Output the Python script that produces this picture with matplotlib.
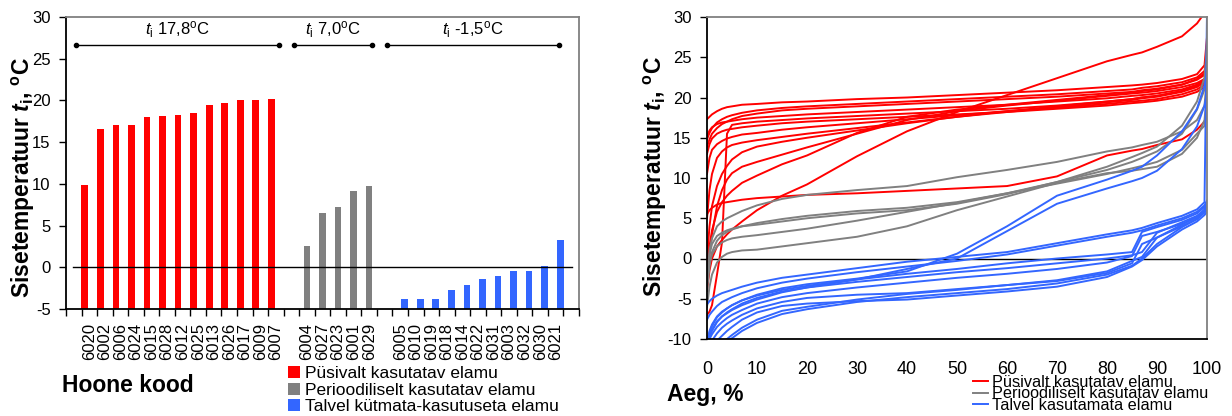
import matplotlib.pyplot as plt
import numpy as np

plt.rcParams['font.family'] = 'Liberation Sans'
plt.rcParams['axes.unicode_minus'] = False
plt.rcParams['mathtext.fontset'] = 'custom'
plt.rcParams['mathtext.rm'] = 'Liberation Sans'
plt.rcParams['mathtext.it'] = 'Liberation Sans:italic'
plt.rcParams['mathtext.bf'] = 'Liberation Sans:bold'
plt.rcParams['mathtext.bfit'] = 'Liberation Sans:italic:bold'

RED = '#ff0000'
GRAY = '#808080'
BLUE = '#3366ff'

# mean indoor temperature per building, grouped by usage type
perm_codes = ['6020', '6002', '6006', '6024', '6015', '6028', '6012', '6025',
              '6013', '6026', '6017', '6009', '6007']
perm_temp = [9.9, 16.6, 17.0, 17.1, 18.0, 18.1, 18.3, 18.5, 19.4, 19.7, 20.0, 20.1, 20.2]

period_codes = ['6004', '6027', '6023', '6001', '6029']
period_temp = [2.6, 6.5, 7.2, 9.1, 9.7]

winter_codes = ['6005', '6010', '6019', '6018', '6014', '6022', '6031', '6003',
                '6032', '6030', '6021']
winter_temp = [-3.8, -3.75, -3.75, -2.75, -2.1, -1.4, -1.0, -0.5, -0.45, 0.15, 3.3]

group_means = [17.8, 7.0, -1.5]

legend_left = ['Püsivalt kasutatav elamu', 'Perioodiliselt kasutatav elamu',
               'Talvel kütmata-kasutuseta elamu']
legend_right = ['Püsivalt kasutatav elamu', 'Perioodiliselt kasutatav elamu',
                'Talvel kasutamata elamu']

# duration curves: share of time (%) when temperature is below the value
pct = [0, 0.5, 1, 2, 3, 4, 5, 7, 10, 15, 20, 30, 40, 50, 60, 70, 80, 85, 87, 90, 95, 98, 99.5, 100]

perm_curves = [
    [17.3, 17.6, 17.9, 18.3, 18.6, 18.8, 18.9, 19.1, 19.2, 19.4, 19.5, 19.8, 20.0, 20.3, 20.6, 20.9, 21.3, 21.5, 21.6, 21.8, 22.3, 22.9, 24.0, 27.5],
    [14.8, 15.6, 16.2, 16.9, 17.3, 17.6, 17.8, 18.1, 18.4, 18.7, 18.9, 19.2, 19.5, 19.8, 20.1, 20.4, 20.8, 21.0, 21.2, 21.4, 21.9, 22.5, 23.3, 24.9],
    [13.9, 14.8, 15.5, 16.2, 16.7, 17.0, 17.3, 17.7, 18.0, 18.4, 18.6, 18.9, 19.2, 19.5, 19.8, 20.1, 20.5, 20.7, 20.9, 21.1, 21.6, 22.2, 22.8, 23.5],
    [-7.0, -6.6, -5.8, -2.0, 2.0, 15.5, 16.6, 16.8, 17.0, 17.2, 17.4, 17.7, 18.0, 18.3, 18.6, 19.0, 19.5, 19.8, 20.0, 20.2, 20.8, 21.5, 22.0, 22.8],
    [10.5, 12.5, 13.5, 14.2, 14.6, 14.9, 15.1, 15.4, 15.6, 16.0, 16.3, 16.8, 17.3, 17.8, 18.3, 18.7, 19.2, 19.5, 19.6, 19.8, 20.4, 21.0, 21.6, 22.3],
    [5.0, 8.5, 10.5, 12.5, 13.3, 13.8, 14.1, 14.4, 14.7, 15.1, 15.5, 16.2, 16.9, 17.6, 18.2, 18.8, 19.4, 19.7, 19.9, 20.1, 20.7, 21.3, 21.9, 22.6],
    [0.0, 4.0, 6.5, 9.0, 10.5, 11.5, 12.3, 13.2, 13.9, 14.5, 15.0, 15.9, 16.8, 17.6, 18.3, 18.9, 19.5, 19.8, 20.0, 20.2, 20.8, 21.4, 22.0, 22.6],
    [-3.0, 0.5, 3.0, 6.5, 8.5, 9.8, 10.6, 11.4, 12.0, 12.9, 13.8, 15.5, 17.2, 18.3, 19.0, 19.6, 20.2, 20.5, 20.6, 20.8, 21.3, 21.8, 22.3, 22.9],
    [-1.0, 1.5, 3.5, 5.8, 7.0, 7.8, 8.4, 9.4, 10.3, 11.7, 12.8, 15.6, 17.6, 18.5, 19.1, 19.7, 20.3, 20.6, 20.8, 21.0, 21.6, 22.3, 23.0, 24.0],
    [-4.0, -1.5, 0.0, 1.5, 2.3, 3.0, 3.6, 4.6, 6.0, 7.8, 9.2, 12.7, 15.8, 18.2, 20.3, 22.4, 24.5, 25.3, 25.6, 26.3, 27.6, 29.2, 30.5, 31.0],
    [15.2, 15.9, 16.3, 16.7, 16.9, 17.0, 17.1, 17.3, 17.5, 17.7, 17.9, 18.2, 18.5, 18.8, 19.1, 19.5, 19.9, 20.2, 20.3, 20.5, 21.0, 21.6, 22.2, 23.0],
    [13.0, 14.2, 14.9, 15.5, 15.8, 16.0, 16.1, 16.3, 16.5, 16.8, 17.0, 17.3, 17.6, 17.9, 18.2, 18.6, 19.0, 19.3, 19.4, 19.6, 20.1, 20.7, 21.3, 22.0],
    [5.5, 6.0, 6.3, 6.7, 6.9, 7.0, 7.1, 7.3, 7.5, 7.7, 7.9, 8.1, 8.4, 8.7, 9.0, 10.2, 12.8, 13.4, 13.6, 14.1, 14.8, 16.0, 17.0, 17.6],
]

period_curves = [
    [-3.0, 1.0, 2.5, 4.0, 4.6, 5.0, 5.3, 5.9, 6.6, 7.4, 7.9, 8.5, 9.0, 10.1, 11.0, 12.0, 13.3, 13.8, 14.1, 14.5, 15.8, 17.2, 19.0, 22.6],
    [-2.0, 0.5, 1.8, 2.8, 3.2, 3.5, 3.7, 4.0, 4.2, 4.6, 5.0, 5.6, 6.0, 6.8, 8.0, 9.5, 11.4, 12.6, 13.1, 13.9, 16.5, 19.5, 22.5, 26.8],
    [-3.0, -0.5, 0.5, 1.5, 2.0, 2.3, 2.5, 2.7, 2.9, 3.3, 3.7, 4.7, 5.8, 6.9, 8.1, 9.5, 11.0, 12.0, 12.5, 13.3, 15.5, 18.5, 21.0, 24.0],
    [-6.0, -3.5, -2.0, -0.5, 0.2, 0.6, 0.8, 1.0, 1.1, 1.5, 1.9, 2.7, 4.0, 6.0, 7.7, 9.4, 10.6, 10.9, 11.1, 11.4, 13.0, 15.0, 17.2, 20.6],
    [-4.0, -1.0, 0.8, 2.2, 2.9, 3.3, 3.6, 4.0, 4.4, 4.9, 5.3, 5.9, 6.3, 7.0, 8.1, 9.3, 10.5, 11.2, 11.5, 12.0, 13.5, 15.5, 16.5, 18.1],
]

winter_curves = [
    [-10.5, -9.0, -8.2, -7.2, -6.6, -6.2, -5.8, -5.2, -4.5, -3.7, -3.2, -2.5, -1.6, 0.6, 4.0, 7.8, 9.8, 10.9, 11.4, 12.8, 15.8, 18.6, 21.5, 23.0],
    [-10.5, -9.5, -8.8, -7.8, -7.2, -6.8, -6.4, -5.8, -5.1, -4.2, -3.6, -2.6, -1.3, 0.0, 3.4, 6.8, 8.7, 9.6, 10.0, 10.9, 13.6, 16.4, 19.0, 20.5],
    [-5.7, -5.3, -5.0, -4.6, -4.3, -4.1, -3.9, -3.5, -3.0, -2.4, -2.0, -1.2, -0.4, 0.2, 0.8, 1.9, 3.0, 3.5, 3.8, 4.4, 5.3, 6.1, 7.0, 30.5],
    [-7.6, -7.0, -6.6, -5.9, -5.4, -5.1, -4.8, -4.3, -3.7, -3.0, -2.5, -1.7, -1.0, -0.3, 0.5, 1.6, 2.7, 3.2, 3.5, 4.1, 5.0, 5.8, 6.6, 7.2],
    [-10.5, -9.2, -8.4, -7.3, -6.7, -6.2, -5.8, -5.2, -4.6, -3.9, -3.4, -2.6, -1.9, -1.3, -0.6, 0.0, 0.5, 0.8, 3.3, 3.9, 4.8, 5.6, 6.4, 6.8],
    [-10.5, -9.8, -9.0, -7.9, -7.2, -6.7, -6.3, -5.6, -4.9, -4.1, -3.6, -2.9, -2.3, -1.7, -1.2, -0.6, 0.0, 0.4, 0.8, 3.2, 4.5, 5.3, 6.0, 6.5],
    [-10.5, -10.0, -9.4, -8.5, -7.9, -7.4, -7.0, -6.4, -5.6, -4.8, -4.3, -3.6, -3.0, -2.4, -1.9, -1.3, -0.5, 0.3, 2.8, 3.3, 4.3, 5.1, 5.9, 6.3],
    [-10.5, -10.5, -10.2, -9.3, -8.6, -8.1, -7.7, -7.0, -6.2, -5.4, -4.9, -4.5, -4.3, -3.8, -3.3, -2.7, -1.6, -0.3, 0.2, 2.6, 4.0, 4.9, 5.7, 6.1],
    [-10.5, -10.5, -10.5, -10.2, -9.6, -9.0, -8.5, -7.6, -6.7, -5.9, -5.6, -5.3, -5.1, -4.6, -4.1, -3.5, -2.3, -1.0, -0.2, 1.5, 3.6, 4.6, 5.4, 5.8],
    [-10.5, -10.5, -10.5, -10.5, -10.5, -10.3, -9.9, -9.0, -8.0, -6.9, -6.3, -5.4, -4.8, -4.3, -3.8, -3.1, -2.0, -0.9, 0.0, 1.8, 3.9, 4.9, 5.8, 6.4],
    [-10.5, -10.5, -10.5, -10.5, -10.4, -10.0, -9.5, -8.6, -7.6, -6.5, -6.0, -5.1, -4.4, -3.9, -3.3, -2.8, -1.8, -0.6, 1.8, 2.6, 4.2, 5.2, 6.1, 6.7],
]

W, H = 1232, 416
fig = plt.figure(figsize=(W / 100, H / 100), dpi=100)


def fig_box(x0, y0, x1, y1):
    return [x0 / W, 1 - y1 / H, (x1 - x0) / W, (y1 - y0) / H]


def style_frame(ax):
    for side in ('left', 'bottom'):
        ax.spines[side].set_color('black')
        ax.spines[side].set_linewidth(1.3)
    for side in ('top', 'right'):
        ax.spines[side].set_color(GRAY)
        ax.spines[side].set_linewidth(1.3)


# ---- left: mean temperature per building ----
ax1 = fig.add_axes(fig_box(66, 17, 579, 309))
style_frame(ax1)

groups = [(perm_codes, perm_temp, RED, -0.29),
          (period_codes, period_temp, GRAY, 0.0),
          (winter_codes, winter_temp, BLUE, 0.29)]
base = -5
start = 1
tick_pos, tick_lab, spans, handles = [], [], [], []
for codes, temps, color, shift in groups:
    pos = start + np.arange(len(codes))
    h = ax1.bar(pos + shift, np.array(temps) - base, bottom=base, width=0.43,
                color=color, zorder=2)
    handles.append(h)
    tick_pos += list(pos)
    tick_lab += codes
    spans.append((pos[0] - 0.85, pos[-1] + 0.2))
    start += len(codes) + 1
n_cat = start

ax1.set_xlim(-0.5, n_cat - 0.5)
ax1.set_ylim(-5, 30)
ax1.set_yticks(np.arange(-5, 31, 5))
ax1.set_xticks(tick_pos)
ax1.set_xticklabels(tick_lab, rotation=90)
ax1.set_xticks(np.arange(-0.5, n_cat), minor=True)
ax1.tick_params(axis='x', which='major', length=0, pad=10, labelsize=12)
ax1.tick_params(axis='x', which='minor', length=5, width=1, direction='out')
ax1.tick_params(axis='y', length=5, width=1, direction='out', pad=6, labelsize=12)
ax1.axhline(0, xmin=0.014, xmax=0.986, color='black', lw=1, zorder=3)

for (a, b), m in zip(spans, group_means):
    ax1.plot([a, b], [26.6, 26.6], color='black', lw=1, marker='o', ms=3, zorder=3)
    txt = f'{m:.1f}'.replace('.', ',')
    ax1.text((a + b) / 2, 27.2, r'$t_{\mathrm{i}}$ ' + txt + r'$^{\mathrm{o}}$C',
             ha='center', va='bottom', fontsize=12)

fig.legend(handles, legend_left, loc='upper left', bbox_to_anchor=(288 / W, 1 - 366 / H),
           frameon=False, fontsize=12.5, handlelength=0.7, handleheight=0.7,
           handletextpad=0.3, labelspacing=0.08, borderpad=0, borderaxespad=0)

# ---- right: duration curves of indoor temperature ----
ax2 = fig.add_axes(fig_box(707, 17, 1207, 339))
style_frame(ax2)
ax2.axhline(0, color='black', lw=1, zorder=1)
for curves, color in ((perm_curves, RED), (period_curves, GRAY), (winter_curves, BLUE)):
    for c in curves:
        ax2.plot(pct, c, color=color, lw=1.4, zorder=2)
ax2.set_xlim(0, 100)
ax2.set_ylim(-10, 30)
ax2.set_xticks(np.arange(0, 101, 10))
ax2.set_yticks(np.arange(-10, 31, 5))
ax2.tick_params(axis='x', length=0, pad=16, labelsize=13)
ax2.tick_params(axis='y', length=5, width=1, direction='out', pad=6, labelsize=12)

line_handles = [plt.Line2D([], [], color=c, lw=1.4) for c in (RED, GRAY, BLUE)]
fig.legend(line_handles, legend_right, loc='upper left', bbox_to_anchor=(973 / W, 1 - 375 / H),
           frameon=False, fontsize=11.7, handlelength=0.95, handletextpad=0.2,
           labelspacing=-0.22, borderpad=0, borderaxespad=0)

# ---- axis titles ----
ylab = r'Sisetemperatuur $\mathbfit{t}_{\mathbf{i}}$, $^{\mathbf{o}}$C'
fig.text(23 / W, 1 - 178 / H, ylab, rotation=90, ha='center', va='center',
         fontsize=16.5, fontweight='bold')
fig.text(655 / W, 1 - 177 / H, ylab, rotation=90, ha='center', va='center',
         fontsize=16.5, fontweight='bold')
fig.text(62 / W, 1 - 385 / H, 'Hoone kood', ha='left', va='center',
         fontsize=16.5, fontweight='bold')
fig.text(667 / W, 1 - 395 / H, 'Aeg, %', ha='left', va='center',
         fontsize=16.5, fontweight='bold')

fig.savefig('out.png', dpi=100)
